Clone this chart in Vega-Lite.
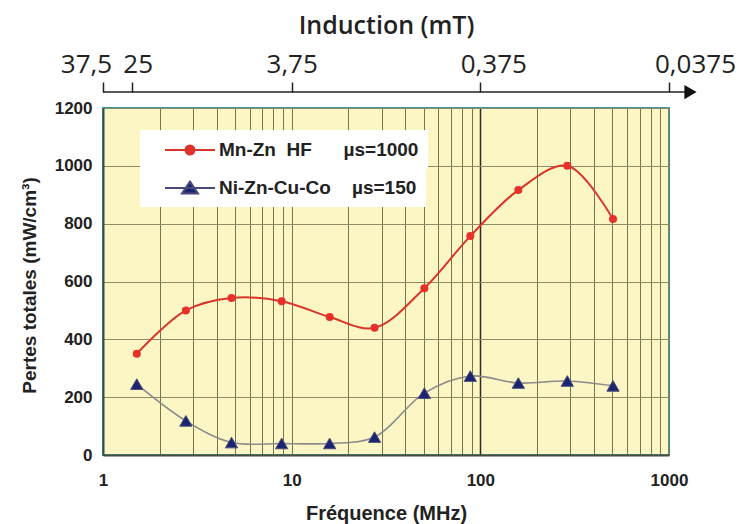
{
  "$schema": "https://vega.github.io/schema/vega-lite/v6.json",
  "width": 566,
  "height": 347,
  "autosize": "none",
  "padding": {"left": 103, "top": 108, "right": 71, "bottom": 69},
  "background": "white",
  "config": {
    "view": {"fill": "#fbf6c4", "stroke": "#3a9aa3", "strokeWidth": 2},
    "axis": {"labelFont": "Liberation Sans", "labelFontWeight": "bold", "labelFontSize": 17, "labelColor": "#222", "titleFont": "Liberation Sans", "titleFontWeight": "bold", "titleColor": "#222"},
    "legend": {"labelFont": "Liberation Sans", "labelFontWeight": "bold", "labelFontSize": 19, "labelColor": "#222", "labelLimit": 400}
  },
  "datasets": {
    "series": [
      {"f": 1.51, "p": 350, "s": "Mn-Zn\u00a0\u00a0HF\u00a0\u00a0\u00a0\u00a0\u00a0\u00a0µs=1000"},
      {"f": 2.75, "p": 500, "s": "Mn-Zn\u00a0\u00a0HF\u00a0\u00a0\u00a0\u00a0\u00a0\u00a0µs=1000"},
      {"f": 4.8, "p": 543, "s": "Mn-Zn\u00a0\u00a0HF\u00a0\u00a0\u00a0\u00a0\u00a0\u00a0µs=1000"},
      {"f": 8.85, "p": 532, "s": "Mn-Zn\u00a0\u00a0HF\u00a0\u00a0\u00a0\u00a0\u00a0\u00a0µs=1000"},
      {"f": 15.9, "p": 477, "s": "Mn-Zn\u00a0\u00a0HF\u00a0\u00a0\u00a0\u00a0\u00a0\u00a0µs=1000"},
      {"f": 27.5, "p": 440, "s": "Mn-Zn\u00a0\u00a0HF\u00a0\u00a0\u00a0\u00a0\u00a0\u00a0µs=1000"},
      {"f": 50.5, "p": 577, "s": "Mn-Zn\u00a0\u00a0HF\u00a0\u00a0\u00a0\u00a0\u00a0\u00a0µs=1000"},
      {"f": 88.5, "p": 757, "s": "Mn-Zn\u00a0\u00a0HF\u00a0\u00a0\u00a0\u00a0\u00a0\u00a0µs=1000"},
      {"f": 159, "p": 916, "s": "Mn-Zn\u00a0\u00a0HF\u00a0\u00a0\u00a0\u00a0\u00a0\u00a0µs=1000"},
      {"f": 289, "p": 1000, "s": "Mn-Zn\u00a0\u00a0HF\u00a0\u00a0\u00a0\u00a0\u00a0\u00a0µs=1000"},
      {"f": 505, "p": 816, "s": "Mn-Zn\u00a0\u00a0HF\u00a0\u00a0\u00a0\u00a0\u00a0\u00a0µs=1000"},
      {"f": 1.51, "p": 245, "s": "Ni-Zn-Cu-Co\u00a0\u00a0\u00a0\u00a0µs=150"},
      {"f": 2.75, "p": 118, "s": "Ni-Zn-Cu-Co\u00a0\u00a0\u00a0\u00a0µs=150"},
      {"f": 4.8, "p": 43, "s": "Ni-Zn-Cu-Co\u00a0\u00a0\u00a0\u00a0µs=150"},
      {"f": 8.85, "p": 40, "s": "Ni-Zn-Cu-Co\u00a0\u00a0\u00a0\u00a0µs=150"},
      {"f": 15.9, "p": 40, "s": "Ni-Zn-Cu-Co\u00a0\u00a0\u00a0\u00a0µs=150"},
      {"f": 27.5, "p": 62, "s": "Ni-Zn-Cu-Co\u00a0\u00a0\u00a0\u00a0µs=150"},
      {"f": 50.5, "p": 214, "s": "Ni-Zn-Cu-Co\u00a0\u00a0\u00a0\u00a0µs=150"},
      {"f": 88.5, "p": 273, "s": "Ni-Zn-Cu-Co\u00a0\u00a0\u00a0\u00a0µs=150"},
      {"f": 159, "p": 249, "s": "Ni-Zn-Cu-Co\u00a0\u00a0\u00a0\u00a0µs=150"},
      {"f": 289, "p": 256, "s": "Ni-Zn-Cu-Co\u00a0\u00a0\u00a0\u00a0µs=150"},
      {"f": 505, "p": 239, "s": "Ni-Zn-Cu-Co\u00a0\u00a0\u00a0\u00a0µs=150"}
    ],
    "arrow": [{"x": 1, "x2": 1300, "y": 1255}]
  },
  "layer": [
    {
      "data": {"name": "series"},
      "mark": {"type": "line", "interpolate": "catmull-rom"},
      "encoding": {
        "x": {
          "field": "f", "type": "quantitative",
          "scale": {"type": "log", "domain": [1, 1000], "nice": false},
          "axis": {
            "orient": "bottom",
            "values": [1,2,3,4,5,6,7,8,9,10,20,30,40,50,60,70,80,90,100,200,300,400,500,600,700,800,900,1000],
            "format": "d",
            "labelExpr": "(datum.value==1||datum.value==10||datum.value==100||datum.value==1000)?datum.label:''",
            "ticks": false,
            "labelPadding": 17,
            "labelFlush": false,
            "domainColor": "#4a4a3a",
            "domainWidth": 2,
            "grid": true,
            "gridColor": {"condition": {"test": "datum.value==100", "value": "#2a2a20"}, "value": "#77734f"},
            "gridWidth": {"condition": {"test": "datum.value==100", "value": 1.5}, "value": 1},
            "title": "Fréquence (MHz)",
            "titleFontSize": 20,
            "titlePadding": 15
          }
        },
        "y": {
          "field": "p", "type": "quantitative",
          "scale": {"domain": [0, 1200], "nice": false},
          "axis": {
            "values": [0, 200, 400, 600, 800, 1000, 1200],
            "format": "d",
            "ticks": false,
            "labelPadding": 11,
            "domainColor": "#2f4f4a",
            "domainWidth": 2,
            "grid": true,
            "gridColor": "#8f8b68",
            "title": "Pertes totales (mW/cm³)",
            "titleFontSize": 19,
            "titleX": -74,
            "titleY": 177,
            "titleBaseline": "middle"
          }
        },
        "stroke": {"condition": {"test": "indexof(datum.s,'Mn')==0", "value": "#d8352b"}, "value": "#8a8a8a"},
        "strokeWidth": {"condition": {"test": "indexof(datum.s,'Mn')==0", "value": 2}, "value": 1.6},
        "detail": {"field": "s"}
      }
    },
    {
      "data": {"name": "series"},
      "transform": [{"filter": "indexof(datum.s,'Mn')==0"}],
      "mark": {"type": "point", "size": 64, "filled": true, "opacity": 1},
      "encoding": {
        "x": {"field": "f", "type": "quantitative", "axis": null},
        "y": {"field": "p", "type": "quantitative"},
        "fill": {
          "field": "s", "type": "nominal",
          "scale": {"domain": ["Mn-Zn\u00a0\u00a0HF\u00a0\u00a0\u00a0\u00a0\u00a0\u00a0µs=1000"], "range": ["#e8302a"]},
          "legend": {
            "title": null,
            "orient": "none",
            "legendX": 37,
            "legendY": 22,
            "fillColor": "white",
            "padding": 9,
            "symbolOffset": 30,
            "symbolSize": 400,
            "symbolType": "M-2.5,0H2.5M-0.45,0A0.45,0.45 0 1,0 0.45,0A0.45,0.45 0 1,0 -0.45,0Z",
            "symbolStrokeColor": "#d8352b",
            "symbolStrokeWidth": 2,
            "labelOffset": 18,
            "labelExpr": "datum.label + '\u00a0\u00a0'"
          }
        }
      }
    },
    {
      "data": {"name": "series"},
      "transform": [{"filter": "indexof(datum.s,'Ni')==0"}],
      "mark": {"type": "point", "shape": "triangle-up", "size": 150, "filled": true, "fill": "#1b2470", "opacity": 1, "strokeWidth": 1},
      "encoding": {
        "x": {"field": "f", "type": "quantitative", "axis": null},
        "y": {"field": "p", "type": "quantitative"},
        "stroke": {
          "field": "s", "type": "nominal",
          "scale": {"domain": ["Ni-Zn-Cu-Co\u00a0\u00a0\u00a0\u00a0µs=150"], "range": ["#4a4a7a"]},
          "legend": {
            "title": null,
            "orient": "none",
            "legendX": 37,
            "legendY": 60,
            "fillColor": "white",
            "padding": 9,
            "symbolOffset": 30,
            "symbolSize": 400,
            "symbolType": "M-2.5,0H2.5M0,-0.65L0.8,0.55L-0.8,0.55Z",
            "symbolFillColor": "#1b2470",
            "symbolStrokeWidth": 2,
            "labelOffset": 18,
            "labelExpr": "datum.label + '\u00a0\u00a0\u00a0'"
          }
        }
      }
    },
    {
      "data": {"name": "arrow"},
      "mark": {"type": "rule", "color": "#222", "strokeWidth": 1.5},
      "encoding": {
        "x": {
          "field": "x", "type": "quantitative",
          "axis": {
            "orient": "top",
            "offset": 16,
            "values": [1, 1.42, 10, 100, 1000],
            "labelExpr": "datum.value==1?'37,5':datum.value==1.42?'25':datum.value==10?'3,75':datum.value==100?'0,375':'0,0375'",
            "domain": false,
            "grid": false,
            "ticks": true,
            "tickSize": 10,
            "tickColor": "#222",
            "tickWidth": 1.5,
            "labelPadding": 5,
            "labelOffset": {"condition": [{"test": "datum.value==1", "value": -17}, {"test": "datum.value==1.42", "value": 6}, {"test": "datum.value==100", "value": 13}, {"test": "datum.value==1000", "value": 26}], "value": 0},
            "labelFont": "Open Sans",
            "labelFontWeight": "normal",
            "labelFontSize": 26,
            "labelColor": "#222",
            "labelFlush": false,
            "labelOverlap": false,
            "labelBound": false,
            "title": "Induction (mT)",
            "titleFont": "Open Sans",
            "titleFontWeight": 600,
            "titleFontSize": 25,
            "titleY": -67,
            "titleBaseline": "middle",
            "encode": {"ticks": {"update": {"y": {"value": -10}, "y2": {"value": 11}}}}
          }
        },
        "x2": {"field": "x2"},
        "y": {"field": "y", "type": "quantitative"}
      }
    },
    {
      "data": {"name": "arrow"},
      "mark": {"type": "point", "shape": "triangle-right", "filled": true, "color": "#111", "size": 200, "opacity": 1},
      "encoding": {
        "x": {"field": "x2", "type": "quantitative", "axis": null},
        "y": {"field": "y", "type": "quantitative"}
      }
    }
  ],
  "resolve": {"axis": {"x": "independent"}}
}
